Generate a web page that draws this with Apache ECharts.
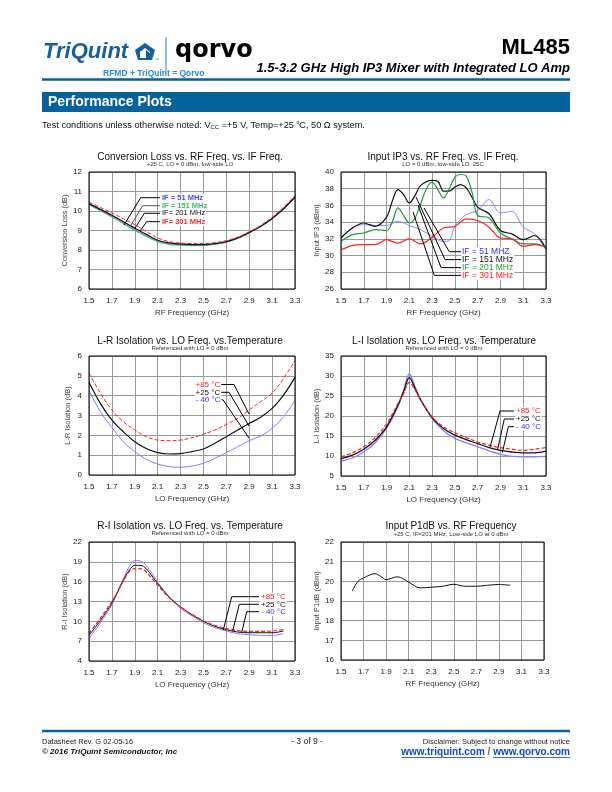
<!DOCTYPE html>
<html><head><meta charset="utf-8">
<script src="https://cdn.jsdelivr.net/npm/echarts@6/dist/echarts.min.js"></script>
<style>html,body{margin:0;padding:0;background:#fff}#c{width:612px;height:792px}</style>
</head><body><div id="c"></div>
<script>
// ---------- tick labels ----------
const xTicks = [1.5,1.7,1.9,2.1,2.3,2.5,2.7,2.9,3.1,3.3];
const clTicks = [6,7,8,9,10,11,12];
const ip3Ticks = [26,28,30,32,34,36,38,40];
const lrTicks = [0,1,2,3,4,5,6];
const liTicks = [5,10,15,20,25,30,35];
const riTicks = [4,7,10,13,16,19,22];
const p1Ticks = [16,17,18,19,20,21,22];

// ---------- Conversion loss ----------
const clFreq = [1.5,1.6,1.7,1.8,1.9,2.0,2.1,2.2,2.3,2.4,2.5,2.6,2.7,2.8,2.9,3.0,3.1,3.2,3.3];
const clIF51  = [10.35,10.03,9.72,9.38,9.04,8.72,8.45,8.32,8.27,8.25,8.25,8.31,8.41,8.60,8.88,9.20,9.60,10.10,10.70];
const clIF151 = [10.32,10.00,9.69,9.35,9.00,8.70,8.42,8.28,8.24,8.22,8.23,8.29,8.39,8.60,8.88,9.22,9.63,10.12,10.68];
const clIF201 = [10.38,10.08,9.78,9.45,9.12,8.80,8.50,8.36,8.31,8.28,8.28,8.33,8.43,8.62,8.90,9.22,9.62,10.12,10.72];
const clIF301 = [10.45,10.18,9.90,9.60,9.30,8.95,8.62,8.43,8.36,8.33,8.33,8.38,8.48,8.66,8.93,9.26,9.68,10.20,10.80];

// ---------- Input IP3 ----------
const ip3Freq51  = [1.5,1.6,1.7,1.8,1.9,2.0,2.1,2.2,2.3,2.4,2.45,2.5,2.6,2.7,2.8,2.9,3.0,3.1,3.2,3.3];
const ip3IF51    = [32.2,33.3,33.7,33.6,33.6,34.1,33.6,33.1,32.3,31.7,31.8,33.5,34.9,35.4,36.7,35.1,35.3,33.4,32.6,30.7];
const ip3Freq151 = [1.5,1.6,1.7,1.75,1.8,1.9,1.95,2.0,2.05,2.1,2.15,2.2,2.3,2.35,2.4,2.45,2.5,2.55,2.6,2.65,2.7,2.8,2.9,3.0,3.1,3.2,3.3];
const ip3IF151   = [32.1,33.3,33.9,33.7,33.5,34.6,36.5,37.9,37.3,36.3,37.2,38.4,39.0,38.9,37.7,37.7,38.2,38.5,38.1,37.0,35.8,35.0,33.0,32.6,31.9,32.4,30.8];
const ip3Freq201 = [1.5,1.6,1.7,1.8,1.9,1.95,2.0,2.05,2.1,2.15,2.2,2.25,2.3,2.35,2.4,2.45,2.5,2.55,2.6,2.65,2.7,2.8,2.9,3.0,3.1,3.2,3.3];
const ip3IF201   = [31.7,32.5,32.7,33.1,33.0,34.0,35.7,34.8,33.9,34.5,36.2,38.0,38.8,37.9,36.9,38.0,39.4,39.7,39.5,37.6,34.8,34.5,32.7,32.0,31.4,31.4,31.0];
const ip3Freq301 = [1.5,1.6,1.7,1.8,1.9,2.0,2.1,2.2,2.3,2.4,2.5,2.6,2.7,2.8,2.9,3.0,3.1,3.2,3.3];
const ip3IF301   = [30.7,31.2,31.3,31.3,31.9,31.5,32.0,31.4,32.2,33.3,33.5,34.4,34.2,33.4,32.1,32.0,31.1,31.3,31.0];

// ---------- L-R isolation ----------
const lrFreq = [1.5,1.6,1.7,1.8,1.9,2.0,2.1,2.2,2.3,2.4,2.5,2.6,2.7,2.8,2.9,3.0,3.1,3.2,3.3];
const lrP85 = [5.13,4.12,3.28,2.69,2.27,1.93,1.76,1.73,1.76,1.88,2.05,2.27,2.55,2.86,3.28,3.70,4.12,4.87,5.76];
const lrP25 = [4.66,3.60,2.77,2.18,1.68,1.34,1.13,1.06,1.08,1.18,1.31,1.60,1.93,2.27,2.60,2.91,3.36,4.03,4.92];
const lrM40 = [4.25,3.19,2.39,1.68,1.18,0.79,0.55,0.42,0.39,0.45,0.59,0.84,1.13,1.43,1.73,1.97,2.35,2.94,3.75];

// ---------- L-I isolation ----------
const liFreq = [1.5,1.6,1.7,1.8,1.9,2.0,2.05,2.1,2.15,2.2,2.3,2.4,2.5,2.6,2.7,2.8,2.9,3.0,3.1,3.2,3.3];
const liP85 = [9.8,10.8,12.3,14.6,18.0,23.1,25.6,28.4,26.5,24.0,19.8,17.3,15.8,14.6,13.5,12.7,12.1,11.7,11.4,11.7,12.1];
const liP25 = [9.35,10.2,11.7,13.95,17.3,22.7,26.1,29.6,26.9,24.0,19.6,16.9,15.2,14.1,13.1,12.1,11.4,11.0,10.8,10.8,11.2];
const liM40 = [8.7,9.5,11.0,13.3,16.9,22.3,26.5,30.5,27.3,24.0,19.4,16.3,14.4,13.3,12.3,11.3,10.4,9.9,9.8,9.8,9.9];

// ---------- R-I isolation ----------
const riFreq = [1.5,1.6,1.7,1.8,1.85,1.9,1.95,2.0,2.1,2.2,2.3,2.4,2.5,2.6,2.7,2.8,2.9,3.0,3.1,3.2];
const riP85 = [8.13,10.5,13.0,16.05,17.5,17.97,17.97,17.46,15.45,13.58,12.17,11.05,10.1,9.4,8.9,8.59,8.48,8.48,8.54,8.74];
const riP25 = [7.88,10.15,12.8,16.2,17.7,18.47,18.47,17.97,15.7,13.68,12.17,11.0,10.0,9.24,8.74,8.38,8.28,8.28,8.28,8.54];
const riM40 = [7.38,9.8,12.5,16.45,18.2,19.2,19.1,18.47,15.95,13.68,12.0,10.8,9.8,9.04,8.54,8.13,7.98,7.88,7.88,8.13];

// ---------- Input P1dB ----------
const p1Freq = [1.6,1.65,1.7,1.8,1.85,1.9,2.0,2.1,2.2,2.3,2.4,2.5,2.6,2.7,2.8,2.9,3.0];
const p1Val  = [19.5,20.0,20.17,20.39,20.26,20.09,20.23,19.96,19.67,19.7,19.75,19.85,19.75,19.75,19.8,19.84,19.8];

// =====================================================
const F = '"Liberation Sans", Arial, Helvetica, sans-serif';
const BLUE = '#7070ff', RED = '#ff2020', GREEN = '#1f9a3a', BLACK = '#111111';
const zip = (a, b) => a.map((v, i) => [v, b[i]]);

const grids = [
  {left:89,  top:172, width:206, height:117},
  {left:341, top:172, width:205, height:117},
  {left:89,  top:356, width:206, height:119},
  {left:341, top:356, width:205, height:120},
  {left:89,  top:542, width:206, height:119},
  {left:341, top:542, width:203, height:118}
];
const axDefs = [
  {yMin:6,  yMax:12, yTicks:clTicks,  xName:'RF Frequency (GHz)', yName:'Conversion Loss (dB)', yGap:17},
  {yMin:26, yMax:40, yTicks:ip3Ticks, xName:'RF Frequency (GHz)', yName:'Input IP3 (dBm)', yGap:18},
  {yMin:0,  yMax:6,  yTicks:lrTicks,  xName:'LO Frequency (GHz)', yName:'L-R Isolation (dB)', yGap:17},
  {yMin:5,  yMax:35, yTicks:liTicks,  xName:'LO Frequency (GHz)', yName:'L-I Isolation (dB)', yGap:18},
  {yMin:4,  yMax:22, yTicks:riTicks,  xName:'LO Frequency (GHz)', yName:'R-I Isolation (dB)', yGap:17},
  {yMin:16, yMax:22, yTicks:p1Ticks,  xName:'RF Frequency (GHz)', yName:'Input P1dB (dBm)', yGap:18}
];

const xAxes = [], yAxes = [];
axDefs.forEach((d, i) => {
  xAxes.push({
    gridIndex:i, type:'value', min:1.5, max:3.3,
    axisLine:{show:false}, axisTick:{show:false, customValues:xTicks},
    axisLabel:{customValues:xTicks, formatter:v => v.toFixed(1), fontSize:8, color:'#222', margin:8, fontFamily:F},
    splitLine:{show:true, lineStyle:{color:'#9a9a9a', width:1}},
    name:d.xName, nameLocation:'middle', nameGap:20,
    nameTextStyle:{fontSize:8, color:'#333', fontFamily:F}
  });
  yAxes.push({
    gridIndex:i, type:'value', min:d.yMin, max:d.yMax,
    axisLine:{show:false}, axisTick:{show:false, customValues:d.yTicks},
    axisLabel:{customValues:d.yTicks, fontSize:8, color:'#222', margin:7, fontFamily:F},
    splitLine:{show:true, lineStyle:{color:'#9a9a9a', width:1}},
    name:d.yName, nameLocation:'middle', nameGap:d.yGap,
    nameTextStyle:{fontSize:7.5, color:'#444', fontFamily:F}
  });
});

function ser(i, xs, ys, color, dashed, w) {
  return {
    type:'line', xAxisIndex:i, yAxisIndex:i, data:zip(xs, ys),
    showSymbol:false, smooth:0.35, animation:false, silent:true,
    lineStyle:{color:color, width:w || 1, type: dashed ? [4,2] : 'solid'}, z:3
  };
}
const series = [
  ser(0, clFreq, clIF51, BLUE), ser(0, clFreq, clIF151, '#3cc070'),
  ser(0, clFreq, clIF201, BLACK, false, 1.3), ser(0, clFreq, clIF301, RED, true),
  ser(1, ip3Freq51, ip3IF51, '#8a8aff'), ser(1, ip3Freq151, ip3IF151, BLACK, false, 1.2),
  ser(1, ip3Freq201, ip3IF201, GREEN, false, 1.2), ser(1, ip3Freq301, ip3IF301, RED, false, 1.2),
  ser(2, lrFreq, lrM40, '#8080ff'), ser(2, lrFreq, lrP25, BLACK, false, 1.2), ser(2, lrFreq, lrP85, RED, true),
  ser(3, liFreq, liM40, '#8080ff', false, 1.3), ser(3, liFreq, liP25, BLACK, false, 1.3), ser(3, liFreq, liP85, RED, true, 1.2),
  ser(4, riFreq, riM40, '#8080ff'), ser(4, riFreq, riP25, BLACK), ser(4, riFreq, riP85, RED, true, 1.2),
  ser(5, p1Freq, p1Val, BLACK)
];

// ---------- page graphics ----------
const G = [];
function txt(x, y, s, o) {
  o = o || {};
  G.push({type:'text', x:x, y:y, z:o.z || 50, silent:true, style:Object.assign({
    text:s, fill:'#000', fontSize:8, fontFamily:F,
    align:'left', verticalAlign:'middle'
  }, o.style || {})});
}
function line(pts, color, w, z) {
  G.push({type:'polyline', z:z || 40, silent:true, shape:{points:pts}, style:{stroke:color || '#000', lineWidth:w || 1, fill:null}});
}
// frames
grids.forEach(g => G.push({type:'rect', z:30, silent:true, shape:{x:g.left, y:g.top, width:g.width, height:g.height}, style:{fill:null, stroke:'#000', lineWidth:1}}));

// chart titles
const titles = [
  [190, 'Conversion Loss vs. RF Freq. vs. IF Freq.', '+25 C, LO = 0 dBm, low-side LO', 157],
  [443, 'Input IP3 vs. RF Freq. vs. IF Freq.', 'LO = 0 dBm, low-side LO, 25C', 157],
  [190, 'L-R Isolation vs. LO Freq. vs.Temperature', 'Referenced with LO = 0 dBm', 341],
  [444, 'L-I Isolation vs. LO Freq. vs. Temperature', 'Referenced with LO = 0 dBm', 341],
  [190, 'R-I Isolation vs. LO Freq. vs. Temperature', 'Referenced with LO = 0 dBm', 526],
  [451, 'Input P1dB vs. RF Frequency', '+25 C, IF=201 MHz, Low-side LO at 0 dBm', 526.5]
];
titles.forEach(t => {
  txt(t[0], t[3], t[1], {style:{fontSize:10, align:'center', fill:'#111'}});
  txt(t[0], t[3] + 7.5, t[2], {style:{fontSize:6, align:'center', fill:'#333'}});
});

// annotation labels & leader lines
function lab(x, y, s, c, fs, bold) {
  txt(x, y, s, {z:45, style:{fill:c, fontSize:fs, fontWeight:bold ? 'bold' : 'normal', backgroundColor:'#fff', padding:[0,1,0,1]}});
}
// chart 1
lab(161, 197.7, 'IF = 51 MHz', '#4848ff', 7.5, true);
lab(161, 205.7, 'IF = 151 MHz', '#3cc070', 7.5, true);
lab(161, 213.3, 'IF= 201 MHz', '#111', 7.5, false);
lab(161, 221.7, 'IF= 301 MHz', '#ff2a2a', 7.5, true);
line([[160,197.7],[140.7,197.7],[124,225]], '#000');
line([[160,205.7],[142.7,205.7],[130,226.7]], '#555');
line([[160,213.3],[144.3,213.3],[135,228.3]], '#000');
line([[160,221.7],[146.7,221.7],[140,231]], '#000');
// chart 2
lab(461, 251.7, 'IF = 51 MHZ', '#3030ff', 8.5);
lab(461, 259.6, 'IF = 151 MHz', '#111', 8.5);
lab(461, 267.6, 'IF = 201 MHz', '#1f9a3a', 8.5);
lab(461, 275.4, 'IF = 301 MHz', '#ff2020', 8.5);
line([[461,251.7],[449.3,251.7],[424,208]], '#000');
line([[461,259.6],[445,259.6],[416,197]], '#000');
line([[461,267.6],[441,267.6],[418,205]], '#000');
line([[461,275.4],[434.3,275.4],[413,212]], '#000');
// chart 3
lab(194.5, 384.5, '+85 °C', '#ff2020', 8);
lab(194.5, 392.3, '+25 °C', '#111', 8);
lab(194.5, 399.8, '- 40 °C', '#3030ff', 8);
line([[219,384.5],[234,384.5],[249,414]], '#000');
line([[217,392.3],[229,392.3],[249,426]], '#000');
line([[219,399.8],[223,399.8],[249,438]], '#000');
// chart 4
lab(515, 411, '+85 °C', '#ff2020', 8);
lab(515, 419, '+25 °C', '#111', 8);
lab(515, 426.7, '- 40 °C', '#3030ff', 8);
line([[514,411],[500,411],[490,447.3]], '#000');
line([[514,419],[504.3,419],[497.7,449.3]], '#000');
line([[514,426.7],[508.3,426.7],[502.3,452.7]], '#000');
// chart 5
lab(260, 596.7, '+85 °C', '#ff2020', 8);
lab(260, 604.3, '+25 °C', '#111', 8);
lab(260, 611.7, '- 40 °C', '#3030ff', 8);
line([[259,596.7],[231.7,596.7],[223.3,630]], '#000');
line([[259,604.3],[239.3,604.3],[232.7,631]], '#000');
line([[259,611.7],[246.7,611.7],[241.7,632.3]], '#000');

// ---------- header ----------
const HB = '#17609e';
txt(43, 52, 'TriQuint', {style:{fontSize:22, fontWeight:'bold', fontStyle:'italic', fill:HB}});
G.push({type:'polygon', z:50, silent:true, shape:{points:[[145,43],[155,50],[152,60],[138,60],[135,50]]}, style:{fill:HB}});
G.push({type:'polygon', z:51, silent:true, shape:{points:[[145,48],[150,52],[150,58],[140,58],[140,52]]}, style:{fill:'#fff'}});
G.push({type:'polygon', z:52, silent:true, shape:{points:[[146,50],[151,54],[151,60],[146,60]]}, style:{fill:HB}});
txt(155, 60, '™', {style:{fontSize:4, fill:HB}});
line([[166,37],[166,71]], '#2b7fc4', 1);
txt(175, 51, 'qorvo', {style:{fontSize:24, fontWeight:'bold', fill:'#000', fontFamily:'"DejaVu Sans", sans-serif'}});
txt(252, 59, '.', {style:{fontSize:5, fill:'#000'}});
txt(103, 73.5, 'RFMD + TriQuint = Qorvo', {style:{fontSize:8.5, fontWeight:'bold', fill:'#2a8cd4'}});
txt(570, 48, 'ML485', {style:{fontSize:22, fontWeight:'bold', align:'right', fill:'#000'}});
txt(570, 68.5, '1.5-3.2 GHz High IP3 Mixer with Integrated LO Amp', {style:{fontSize:13, fontWeight:'bold', fontStyle:'italic', align:'right', fill:'#000'}});
line([[42,79.5],[570,79.5]], '#0d5f9a', 2.5);
G.push({type:'rect', z:40, silent:true, shape:{x:42, y:92, width:528, height:20}, style:{fill:'#05629d'}});
txt(48, 102.5, 'Performance Plots', {style:{fontSize:14, fontWeight:'bold', fill:'#fff'}});
txt(42, 125, 'Test conditions unless otherwise noted: V{s|CC} =+5 V, Temp=+25 {o|o}C, 50 Ω system.', {style:{fontSize:9.2, fill:'#111',
  rich:{s:{fontSize:6, padding:[4,0,0,0], fill:'#111', fontFamily:F}, o:{fontSize:5, padding:[0,0,4,0], fill:'#111', fontFamily:F}}}});

// ---------- footer ----------
line([[42,731],[570,731]], '#0d5f9a', 2.5);
txt(42, 741.5, 'Datasheet Rev. G 02-05-16', {style:{fontSize:7.5, fill:'#222'}});
txt(42, 751.5, '© 2016 TriQuint Semiconductor, Inc', {style:{fontSize:8, fontWeight:'bold', fontStyle:'italic', fill:'#111'}});
txt(307, 741.5, '- 3 of 9 -', {style:{fontSize:8.5, align:'center', fill:'#222'}});
txt(570, 741.5, 'Disclaimer: Subject to change without notice', {style:{fontSize:7.5, align:'right', fill:'#222'}});
(function(){
  const cv = document.createElement('canvas').getContext('2d');
  cv.font = 'bold 10px ' + F;
  const a = 'www.triquint.com', sep = ' / ', b = 'www.qorvo.com';
  const wb = cv.measureText(b).width, ws = cv.measureText(sep).width, wa = cv.measureText(a).width;
  const xb = 570 - wb, xs = xb - ws, xa = xs - wa;
  const LC = '#1646c8';
  txt(xa, 752, a, {style:{fontSize:10, fontWeight:'bold', fill:LC}});
  txt(xs, 752, sep, {style:{fontSize:10, fontWeight:'bold', fill:'#666'}});
  txt(xb, 752, b, {style:{fontSize:10, fontWeight:'bold', fill:LC}});
  line([[xa,757.5],[xa+wa,757.5]], LC, 0.8);
  line([[xb,757.5],[xb+wb,757.5]], LC, 0.8);
})();

const chart = echarts.init(document.getElementById('c'), null, {renderer:'canvas', width:612, height:792});
chart.setOption({
  backgroundColor:'#fff', animation:false,
  textStyle:{fontFamily:F},
  grid:grids.map(g => Object.assign({show:false, containLabel:false}, g)),
  xAxis:xAxes, yAxis:yAxes, series:series, graphic:{elements:G}
});
</script>
</body></html>
